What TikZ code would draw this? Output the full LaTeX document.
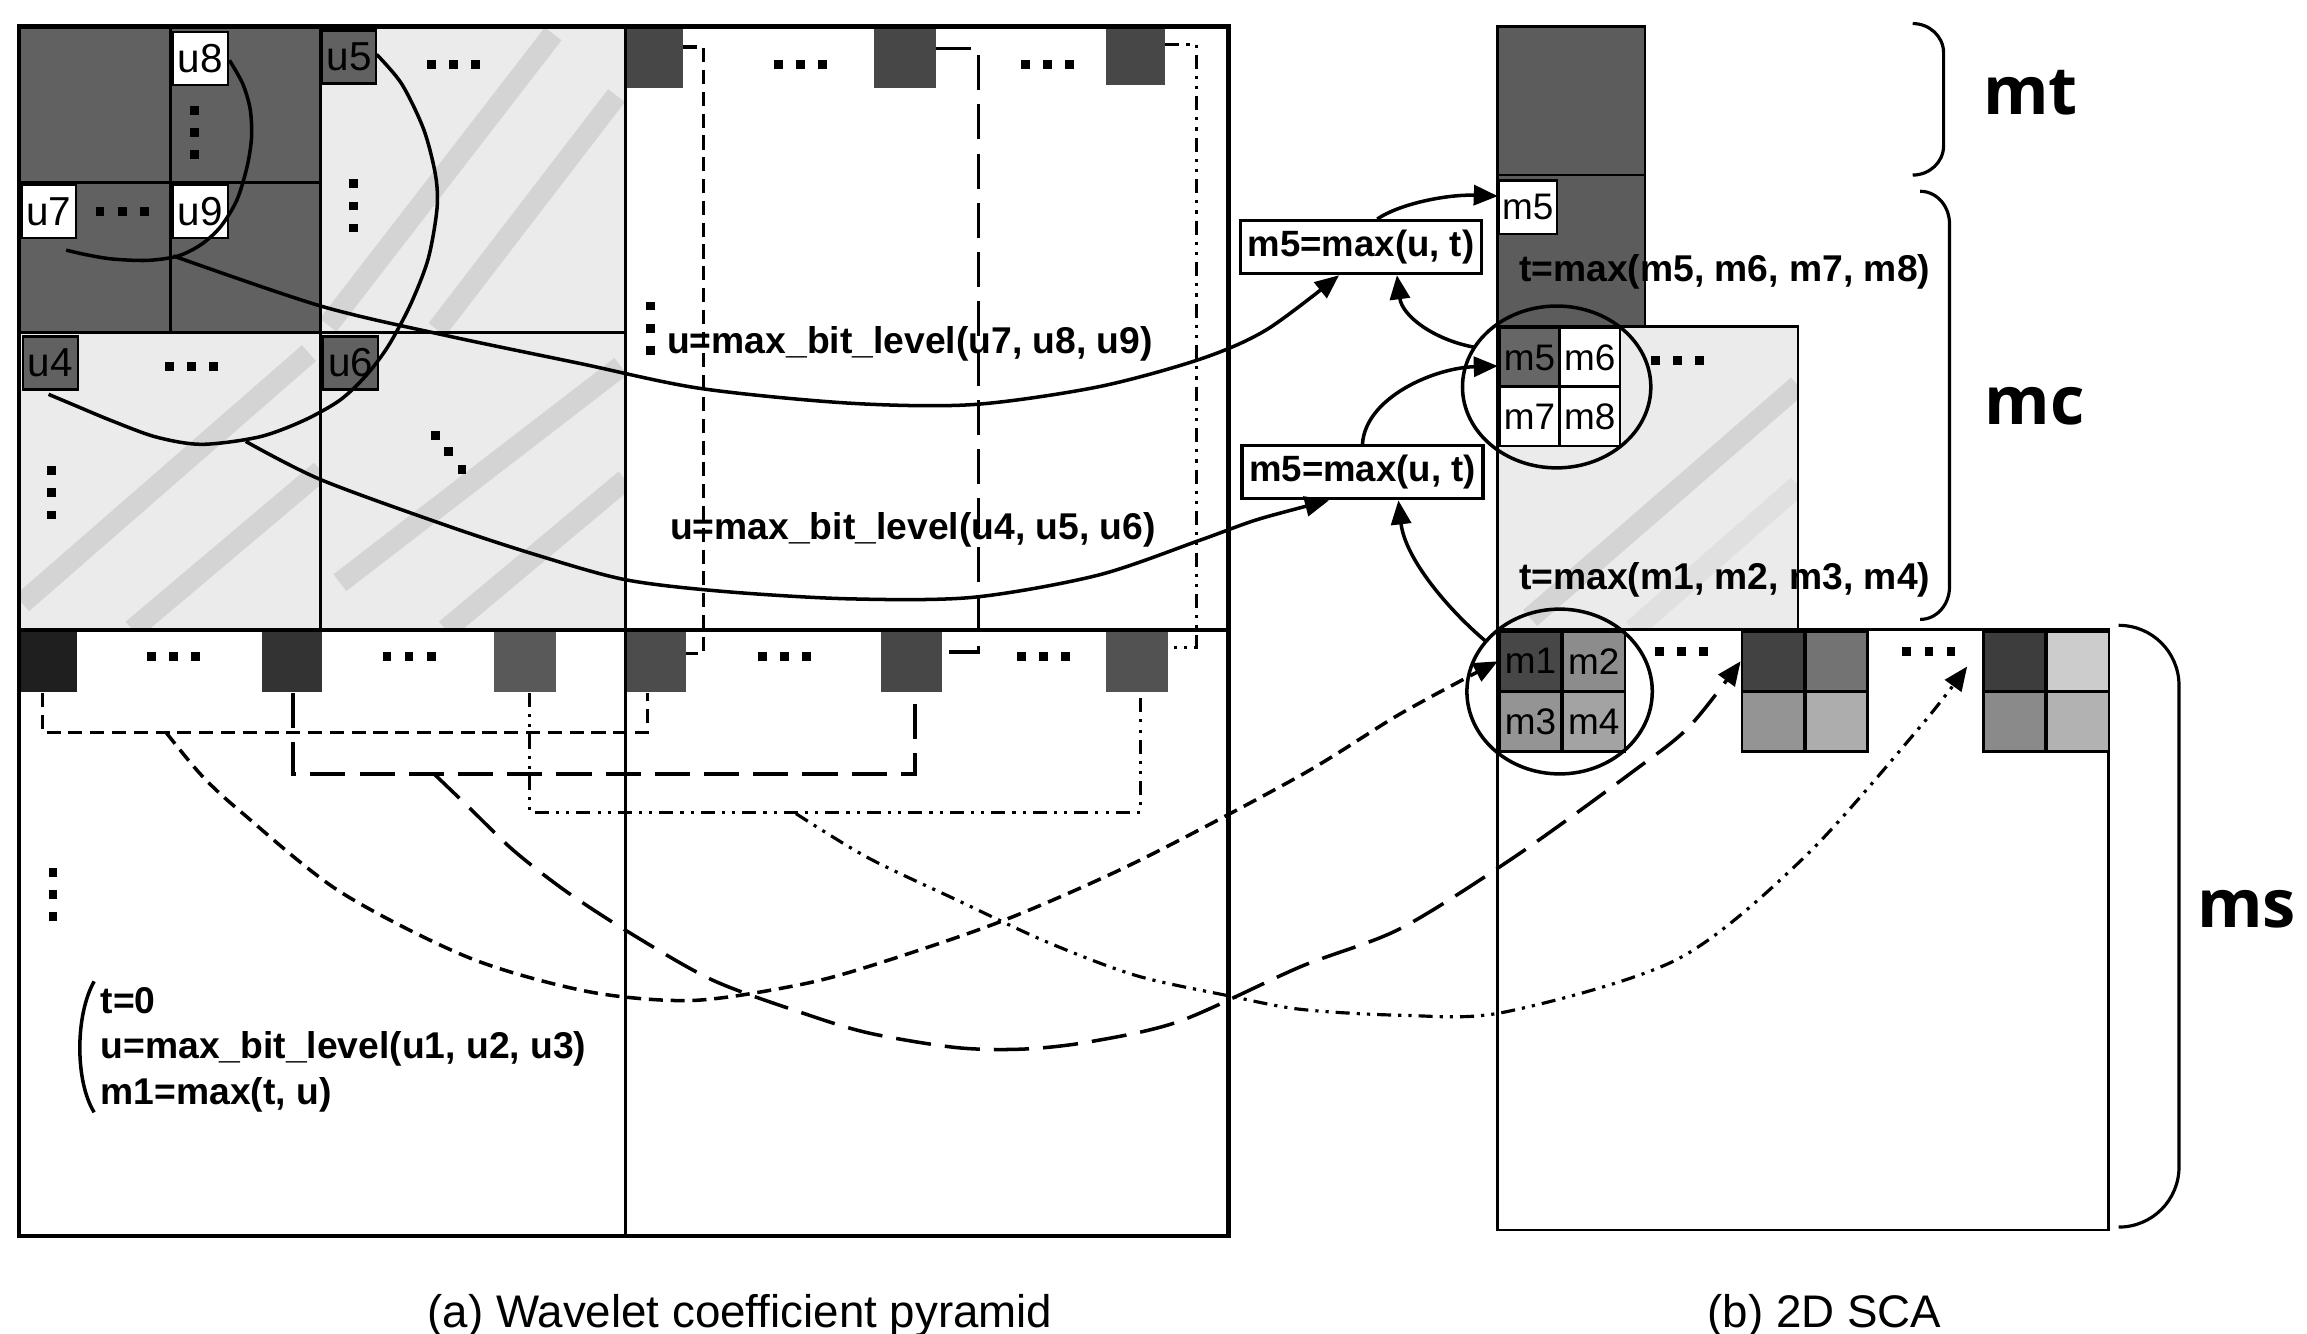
\documentclass[tikz,border=0pt]{standalone}
\usepackage{fontspec}
\setmainfont{Liberation Sans}
\newfontfamily\bigfont{Open Sans}
\usetikzlibrary{arrows.meta}
\newcommand\mydh[2]{\foreach \k in {0,1,2}{\fill ({#1+15*\k-3},{#2-3}) rectangle ++(6,6);}}
\newcommand\mydv[2]{\foreach \k in {0,1,2}{\fill ({#1-3},{#2+15*\k-3}) rectangle ++(6,6);}}
\begin{document}
\begin{tikzpicture}[x=0.014713cm,y=-0.014713cm,
  every node/.style={inner sep=0pt},
  outer/.style={line width=1.3pt},
  split/.style={line width=0.8pt},
  lbl/.style={draw,line width=0.6pt,anchor=north west,minimum width=0.545cm,minimum height=0.53cm,font=\fontsize{11.5}{13}\selectfont},
  mcbox/.style={draw,line width=0.8pt,anchor=north west,minimum width=0.605cm,minimum height=0.59cm,font=\fontsize{10.5}{12}\selectfont},
  msbox/.style={draw,line width=0.8pt,anchor=north west,minimum width=0.625cm,minimum height=0.603cm,font=\fontsize{10.5}{12}\selectfont},
  eqtext/.style={anchor=west,font=\bfseries\fontsize{10.6}{12}\selectfont},
  eqbox/.style={draw,line width=0.9pt,minimum width=2.41cm,minimum height=0.53cm,font=\bfseries\fontsize{10.4}{12}\selectfont,fill=white},
  dA/.style={line width=1pt,dash pattern=on 4pt off 2.2pt},
  dB/.style={line width=1pt,dash pattern=on 10pt off 4pt},
  dC/.style={line width=0.9pt,dash pattern=on 4pt off 2pt on 0.9pt off 2pt on 0.9pt off 2pt},
  conn/.style={line width=1pt},
  arr/.style={-{Triangle[length=2.4mm,width=2mm]}},
  streak/.style={line width=6pt,black!17},
  brace/.style={line width=0.9pt},
  side/.style={font=\bigfont\bfseries\fontsize{19}{22}\selectfont},
  capt/.style={font=\fontsize{13}{15}\selectfont,anchor=base}
]
\fill[white] (0,0) rectangle (1568,906);
\useasboundingbox (0,0) rectangle (1568,906);

% ---------- left pyramid fills ----------
\fill[black!62] (13,18) rectangle (218,226);
\fill[black!8] (218,18) rectangle (425,226);
\fill[black!8] (13,226) rectangle (425,428);
\begin{scope}
  \clip (218,18) rectangle (425,226);
  \draw[streak] (223,221) -- (376,23);
  \draw[streak] (297,224) -- (419,65);
\end{scope}
\begin{scope}
  \clip (13,226) rectangle (218,428);
  \draw[streak] (15,410) -- (210,240);
  \draw[streak] (90,428) -- (218,320);
\end{scope}
\begin{scope}
  \clip (218,226) rectangle (425,428);
  \draw[streak] (231,396) -- (422,249);
  \draw[streak] (303,428) -- (425,326);
\end{scope}

% coefficient squares
\fill[black!72] (425,19) rectangle (464,60);
\fill[black!72] (594,19) rectangle (636,60);
\fill[black!72] (752,19) rectangle (792,58);
\fill[black!88] (14,429) rectangle (52,470);
\fill[black!80] (178,429) rectangle (219,470);
\fill[black!65] (336,429) rectangle (378,470);
\fill[black!70] (425,429) rectangle (466,470);
\fill[black!72] (599,429) rectangle (640,470);
\fill[black!68] (752,429) rectangle (794,470);

% split lines
\draw[split] (116,18) -- (116,226);
\draw[split] (13,124) -- (218,124);
\draw[split] (218,18) -- (218,428);
\draw[split] (13,226) -- (425,226);
\draw[split] (425,18) -- (425,840);
\draw[line width=1.1pt] (13,428) -- (835,428);
\draw[outer] (13,18) rectangle (835,840);

% labels
\node[lbl,fill=white] (u8) at (117,21) {u8};
\node[lbl,fill=white] (u7) at (14,125) {u7};
\node[lbl,fill=white] (u9) at (117,125) {u9};
\node[lbl,fill=black!62] (u5) at (218,20) {u5};
\node[lbl,fill=black!62] (u4) at (15,228) {u4};
\node[lbl,fill=black!62] (u6) at (219,228) {u6};

% dots
\mydh{293}{44}
\mydv{132}{75}
\mydh{68}{144}
\mydv{240}{125}
\mydh{115}{249}
\mydv{35}{320}
\fill (293,293) rectangle ++(6,6);
\fill (302,304) rectangle ++(6,6);
\fill (311,316) rectangle ++(6,6);
\mydh{529}{44}
\mydh{697}{44}
\mydh{103}{446}
\mydh{263}{446}
\mydh{518}{446}
\mydh{694}{446}
\mydv{442}{208}
\mydv{36}{593}

% brackets
\draw[dA] (464,32) -- (478,32) -- (478,444) -- (466,444);
\draw[dB] (636,33) -- (665,33) -- (665,443) -- (640,443);
\draw[dC] (792,30) -- (813,30) -- (813,440) -- (794,440);
\draw[dA] (29,471) -- (29,498) -- (440,498) -- (440,471);
\draw[dB] (199,471) -- (199,526) -- (622,526) -- (622,471);
\draw[dC] (360,471) -- (360,552) -- (775,552) -- (775,471);

% arcs around groups
\draw[conn] plot[smooth] coordinates {(156,41) (165,57) (170,74) (171,93) (168,113) (161,136) (150,154) (137,166) (121,174) (100,177) (76,176) (58,173) (45,170)};
\draw[conn] plot[smooth] coordinates {(256,37) (273,57) (288,88) (296,119) (297,142) (291,176) (279,207) (264,235) (249,255) (231,272) (206,286) (176,297) (137,302) (106,297) (76,286) (52,276) (33,268)};

% equations
\node[eqtext] (e1) at (453,234) {u=max\_bit\_level(u7, u8, u9)};
\node[eqtext] (e2) at (455,360) {u=max\_bit\_level(u4, u5, u6)};
\node[eqtext] (l1) at (68,680) {t=0};
\node[eqtext] (l2) at (68,713) {u=max\_bit\_level(u1, u2, u3)};
\node[eqtext] (l3) at (68,744) {m1=max(t, u)};
\draw[line width=1pt] (64,667) .. controls (51,690) and (51,735) .. (64,756);

% ---------- right: 2D SCA ----------
\fill[black!64] (1018,18) rectangle (1118,222);
\draw[split] (1018,18) rectangle (1118,222);
\draw[split] (1018,119) -- (1118,119);
\node[lbl,fill=white,minimum width=0.58cm,font=\fontsize{10.5}{12}\selectfont] (m5a) at (1018,122) {m5};
\node[eqtext] (tm1) at (1032,185) {t=max(m5, m6, m7, m8)};

\fill[black!8] (1018,222) rectangle (1222,428);
\begin{scope}
  \clip (1018,222) rectangle (1222,428);
  \draw[streak] (1040,420) -- (1222,262);
  \draw[streak,black!12] (1110,428) -- (1222,330);
\end{scope}
\draw[split] (1018,222) rectangle (1222,428);
\node[mcbox,fill=black!60] (m5b) at (1018,222) {m5};
\node[mcbox,fill=white] (m6) at (1059,222) {m6};
\node[mcbox,fill=white] (m7) at (1018,262) {m7};
\node[mcbox,fill=white] (m8) at (1059,262) {m8};
\mydh{1125}{245}
\node[eqtext] (tm2) at (1032,394) {t=max(m1, m2, m3, m4)};

\draw[split] (1018,428) rectangle (1433,836);
\node[msbox,fill=black!72] (m1) at (1018,428) {m1};
\node[msbox,fill=black!45] (m2) at (1061,428) {m2};
\node[msbox,fill=black!42] (m3) at (1018,469) {m3};
\node[msbox,fill=black!36] (m4) at (1061,469) {m4};
\node[msbox,fill=black!74] (g2a) at (1183,428) {};
\node[msbox,fill=black!55] (g2b) at (1226,428) {};
\node[msbox,fill=black!42] (g2c) at (1183,469) {};
\node[msbox,fill=black!32] (g2d) at (1226,469) {};
\node[msbox,fill=black!76] (g3a) at (1347,428) {};
\node[msbox,fill=black!20] (g3b) at (1390,428) {};
\node[msbox,fill=black!46] (g3c) at (1347,469) {};
\node[msbox,fill=black!30] (g3d) at (1390,469) {};
\mydh{1128}{443}
\mydh{1296}{443}

\draw[conn] (1058,263) ellipse [x radius=64,y radius=55];
\draw[conn] (1060,470) ellipse [x radius=63,y radius=56];

% formula boxes
\node[eqbox] (b1) at (925,168) {m5=max(u, t)};
\node[eqbox] (b2) at (926,321) {m5=max(u, t)};

% solid connectors
\draw[conn,arr] plot[smooth] coordinates {(118,174) (218,208) (303,228) (394,247) (476,264) (577,274) (661,275) (746,263) (816,244) (861,224) (b1.-128)};
\draw[conn,arr] plot[smooth] coordinates {(167,300) (218,326) (303,357) (364,377) (425,394) (492,402) (577,407) (661,406) (746,391) (816,367) (855,353) (b2.-140)};
\draw[conn,arr] (b1.60) .. controls (952,138) and (985,132) .. (m5a.160);
\draw[conn,arr] (1002,236) .. controls (975,231) and (953,215) .. (b1.-38);
\draw[conn,arr] (b2.north) .. controls (928,270) and (975,250) .. (m5b.195);
\draw[conn,arr] (1010,436) .. controls (985,415) and (955,380) .. (b2.-38);

% dashed connectors
\draw[dA,arr] plot[smooth] coordinates {(113,498) (137,527) (164,552) (231,606) (319,651) (400,674) (470,680) (540,670) (590,657) (681,626) (772,586) (884,527) (952,485) (m1.west)};
\draw[dB,arr] plot[smooth] coordinates {(295,526) (319,549) (349,578) (385,606) (428,634) (484,666) (544,688) (590,702) (650,712) (696,713) (741,708) (802,694) (884,657) (952,631) (1030,582) (1109,525) (1148,494) (g2a.west)};
\draw[dC,arr] plot[smooth] coordinates {(541,553) (590,583) (651,612) (711,640) (772,663) (836,677) (884,686) (952,690) (1022,688) (1140,652) (1227,582) (1305,494) (1337,453)};

% braces and side labels
\draw[brace] (1300,16) to[out=0,in=90] (1321,36) -- (1321,99) to[out=-90,in=0] (1300,119);
\draw[brace] (1305,130) to[out=0,in=90] (1325,152) -- (1325,399) to[out=-90,in=0] (1305,421);
\draw[brace] (1440,425) to[out=0,in=90] (1481,466) -- (1481,793) to[out=-90,in=0] (1440,834);
\node[side] (mt) at (1380,63) {mt};
\node[side] (mc) at (1383,276) {mc};
\node[side] (ms) at (1527,618) {ms};

% captions
\node[capt] (ca) at (503,902) {(a) Wavelet coefficient pyramid};
\node[capt] (cb) at (1240,902) {(b) 2D SCA};
\end{tikzpicture}
\end{document}
